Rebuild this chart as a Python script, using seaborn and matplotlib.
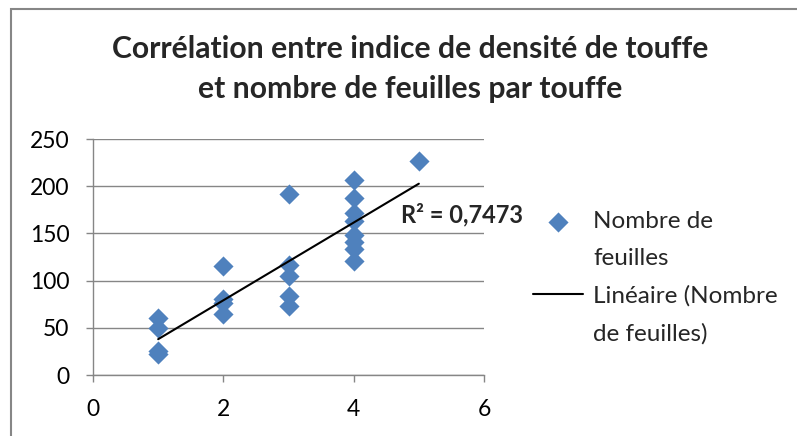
import matplotlib
matplotlib.use("Agg")
import pandas as pd
import matplotlib.pyplot as plt
import seaborn as sns
from matplotlib.lines import Line2D
from matplotlib.patches import Rectangle

# === DATA ===
indice_densite = [1, 1, 1, 1, 2, 2, 2, 2, 3, 3, 3, 3, 3,
                  4, 4, 4, 4, 4, 4, 4, 4, 5]
nombre_feuilles = [60, 50, 25, 22, 115, 80, 76, 65, 192, 117, 105, 84, 73,
                   207, 187, 172, 163, 148, 141, 134, 121, 227]
x_ticks = [0, 2, 4, 6]
y_ticks = [0, 50, 100, 150, 200, 250]
r2_label = "R² = 0,7473"
r2_pos = (4.73, 170)
title = "Corrélation entre indice de densité de touffe\net nombre de feuilles par touffe"
legend_labels = ["Nombre de", "feuilles", "Linéaire (Nombre", "de feuilles)"]

df = pd.DataFrame({"indice": indice_densite, "feuilles": nombre_feuilles})

# === STYLE ===
sns.set_theme(style="white")
plt.rcParams["font.family"] = ["Lato", "DejaVu Sans"]
blue = "#4F81BD"
grey = "#868686"

fig = plt.figure(figsize=(7.97, 4.36), dpi=100)
ax = fig.add_axes([93 / 797, 1 - 375 / 436, (484 - 93) / 797, (375 - 139) / 436])

# === PLOT ===
sns.scatterplot(data=df, x="indice", y="feuilles", marker="D", s=105,
                color=blue, edgecolor=blue, linewidth=0, ax=ax, zorder=2,
                label="scatter", legend=False)
sns.regplot(data=df, x="indice", y="feuilles", scatter=False, ci=None,
            truncate=True, color="black", line_kws={"linewidth": 1.5, "zorder": 3},
            ax=ax, label="trend")

ax.set_xlim(x_ticks[0], x_ticks[-1])
ax.set_ylim(y_ticks[0], y_ticks[-1])
ax.set_xticks(x_ticks)
ax.set_yticks(y_ticks)
ax.set_xlabel("")
ax.set_ylabel("")
ax.grid(axis="y", color=grey, linewidth=1.0)
ax.set_axisbelow(True)
for side in ["top", "right"]:
    ax.spines[side].set_visible(False)
for side in ["left", "bottom"]:
    ax.spines[side].set_color(grey)
    ax.spines[side].set_linewidth(1.0)
ax.tick_params(axis="both", direction="out", length=5, width=1.0, color=grey,
               labelsize=16.5, labelcolor="black")
ax.tick_params(axis="y", pad=12, left=True)
ax.tick_params(axis="x", pad=12, bottom=True)

ax.text(r2_pos[0], r2_pos[1], r2_label, fontsize=17, fontweight="bold",
        va="center", ha="left")

fig.text(410 / 797, 1 - 69 / 436, title, ha="center", va="center",
         fontsize=21.7, fontweight="bold", linespacing=1.5)

# === LEGEND (handle aligned with first line of each label) ===
handles, _ = ax.get_legend_handles_labels()
blank = Line2D([], [], color="none")
leg = fig.legend([handles[0], blank, handles[1], blank], legend_labels,
                 loc="upper left", bbox_to_anchor=(533 / 797, 1 - 211 / 436),
                 bbox_transform=fig.transFigure, frameon=False, fontsize=17.5,
                 borderpad=0, borderaxespad=0, labelspacing=0.66,
                 handlelength=2.06, handletextpad=0.41)

# chart area border (runs off the right and bottom edges)
fig.add_artist(Rectangle((11 / 797, -0.1), 1.2, 1.1 - 9 / 436, fill=False,
                         edgecolor=grey, linewidth=1.5,
                         transform=fig.transFigure))

fig.savefig("out.png", dpi=100)
